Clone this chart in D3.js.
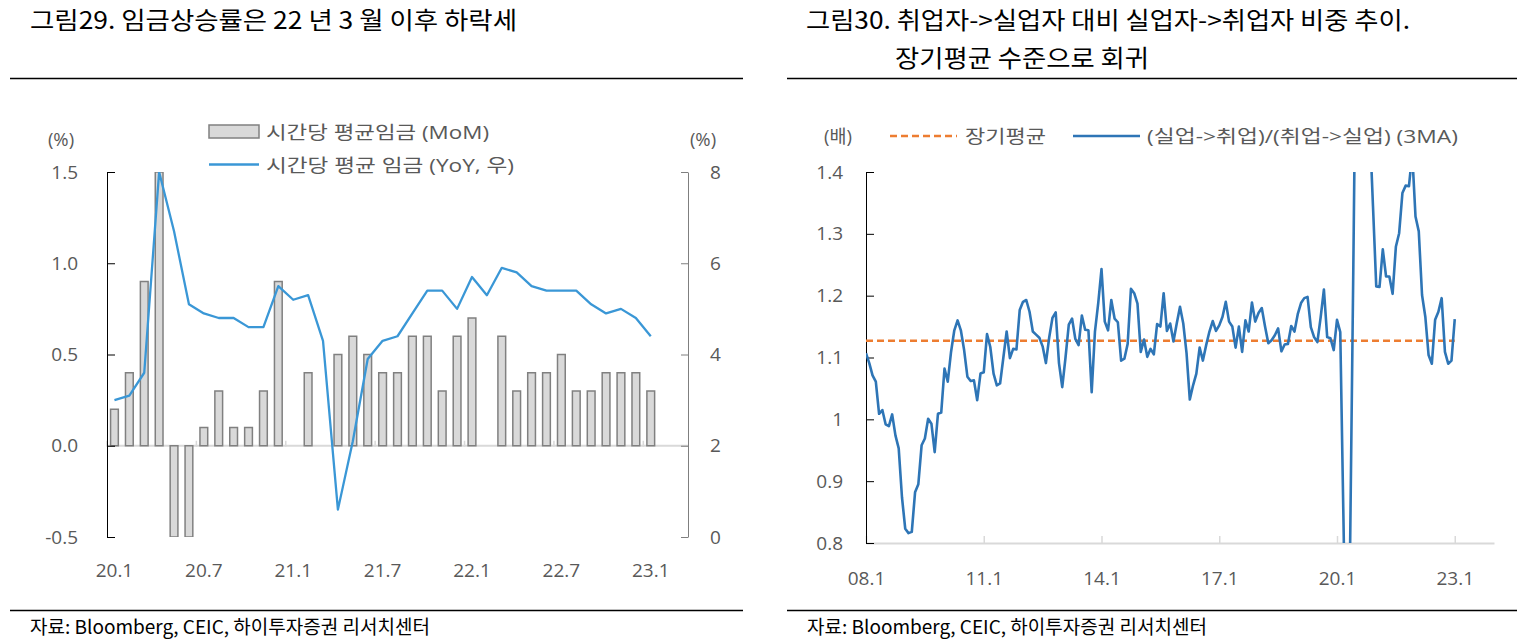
<!DOCTYPE html>
<html>
<head>
<meta charset="utf-8">
<script src="https://cdn.jsdelivr.net/npm/d3@7"></script>
<style>
  body { margin: 0; background: #fff; }
  text { font-family: 'Open Sans', 'Noto Sans CJK KR', sans-serif; }
</style>
</head>
<body>
<script>
// ---- left chart: hourly earnings ----
var wageMonths = ["20.1","20.2","20.3","20.4","20.5","20.6","20.7","20.8","20.9","20.10","20.11","20.12",
    "21.1","21.2","21.3","21.4","21.5","21.6","21.7","21.8","21.9","21.10","21.11","21.12",
    "22.1","22.2","22.3","22.4","22.5","22.6","22.7","22.8","22.9","22.10","22.11","22.12",
    "23.1","23.2","23.3"];
var wageMoM = [0.2, 0.4, 0.9, 1.5, -0.5, -0.5, 0.1, 0.3, 0.1, 0.1, 0.3, 0.9,
    0.0, 0.4, 0.0, 0.5, 0.6, 0.5, 0.4, 0.4, 0.6, 0.6, 0.3, 0.6,
    0.7, 0.0, 0.6, 0.3, 0.4, 0.4, 0.5, 0.3, 0.3, 0.4, 0.4, 0.4,
    0.3];
var wageYoY = [3.0, 3.1, 3.6, 8.0, 6.7, 5.1, 4.9, 4.8, 4.8, 4.6, 4.6, 5.5,
    5.2, 5.3, 4.3, 0.6, 2.1, 3.9, 4.3, 4.4, 4.9, 5.4, 5.4, 5.0,
    5.7, 5.3, 5.9, 5.8, 5.5, 5.4, 5.4, 5.4, 5.1, 4.9, 5.0, 4.8,
    4.4];
var wageTicks = ["20.1","20.7","21.1","21.7","22.1","22.7","23.1"];
var wageLeftTicks = [-0.5, 0, 0.5, 1.0, 1.5];
var wageRightTicks = [0, 2, 4, 6, 8];

// ---- right chart: flow ratio (3MA), monthly from 08.1 ----
var flowRatio = [
    1.107, 1.091, 1.071, 1.061, 1.009, 1.015, 0.992, 0.989, 1.008, 0.974, 0.953, 0.874,
    0.823, 0.816, 0.818, 0.882, 0.895, 0.958, 0.969, 1.001, 0.993, 0.947, 1.009, 1.011,
    1.082, 1.061, 1.109, 1.144, 1.160, 1.144, 1.112, 1.069, 1.062, 1.063, 1.031, 1.074,
    1.076, 1.138, 1.117, 1.074, 1.055, 1.058, 1.100, 1.142, 1.099, 1.114, 1.113, 1.177,
    1.190, 1.193, 1.174, 1.142, 1.137, 1.132, 1.118, 1.091, 1.132, 1.164, 1.173, 1.091,
    1.052, 1.100, 1.153, 1.163, 1.130, 1.120, 1.168, 1.145, 1.144, 1.044, 1.142, 1.188,
    1.243, 1.158, 1.144, 1.193, 1.163, 1.157, 1.095, 1.098, 1.122, 1.211, 1.204, 1.187,
    1.109, 1.129, 1.101, 1.114, 1.105, 1.154, 1.150, 1.204, 1.143, 1.155, 1.126, 1.155,
    1.182, 1.155, 1.107, 1.032, 1.055, 1.074, 1.116, 1.095, 1.120, 1.142, 1.159, 1.143,
    1.152, 1.166, 1.190, 1.158, 1.150, 1.116, 1.150, 1.109, 1.160, 1.142, 1.189, 1.158,
    1.172, 1.180, 1.150, 1.123, 1.128, 1.136, 1.147, 1.110, 1.121, 1.122, 1.151, 1.142,
    1.170, 1.188, 1.196, 1.198, 1.149, 1.133, 1.125, 1.165, 1.210, 1.133, 1.131, 1.112,
    1.161, 1.141, 0.830, 0.500, 0.790, 1.250, 1.750, 2.100, 1.950, 1.700, 1.475, 1.345,
    1.215, 1.214, 1.275, 1.231, 1.231, 1.203, 1.279, 1.301, 1.366, 1.378, 1.377, 1.430,
    1.328, 1.304, 1.201, 1.166, 1.104, 1.090, 1.161, 1.174, 1.196, 1.109, 1.090, 1.095,
    1.162];
var flowAvg = 1.127;
var flowTickIdx = [0, 36, 72, 108, 144, 180];
var flowTickLabels = ["08.1", "11.1", "14.1", "17.1", "20.1", "23.1"];
var flowYTicks = [0.8, 0.9, 1, 1.1, 1.2, 1.3, 1.4];

var W = 1527, H = 642;
var grey = "#595959";

var svg = d3.select("body")
    .append("svg")
    .attr("width", W)
    .attr("height", H);

svg.append("rect").attr("width", W).attr("height", H).attr("fill", "#fff");

// titles, rules and source lines
function header(x0, x1, lines) {
    lines.forEach(function (l) {
        svg.append("text")
            .attr("x", l.x).attr("y", l.y)
            .attr("font-size", 24)
            .attr("fill", "#000")
            .style("font-family", "'Noto Sans CJK KR', sans-serif")
            .attr("textLength", l.w)
            .attr("lengthAdjust", "spacingAndGlyphs")
            .text(l.t);
    });
    svg.append("line").attr("x1", x0).attr("x2", x1).attr("y1", 78.5).attr("y2", 78.5)
        .attr("stroke", "#000").attr("stroke-width", 1.5);
    svg.append("line").attr("x1", x0).attr("x2", x1).attr("y1", 610.5).attr("y2", 610.5)
        .attr("stroke", "#000").attr("stroke-width", 1.5);
    svg.append("text")
        .attr("x", x0 + 20).attr("y", 634)
        .attr("font-size", 19)
        .attr("fill", "#000")
        .style("font-family", "'Noto Sans CJK KR', sans-serif")
        .attr("textLength", 400)
        .attr("lengthAdjust", "spacingAndGlyphs")
        .text("자료: Bloomberg, CEIC, 하이투자증권 리서치센터");
}

header(10, 743, [{ x: 30, y: 29, w: 487, t: "그림29. 임금상승률은 22 년 3 월 이후 하락세" }]);
header(787, 1517, [
    { x: 806, y: 29, w: 604, t: "그림30. 취업자->실업자 대비 실업자->취업자 비중 추이." },
    { x: 895, y: 67, w: 254, t: "장기평균 수준으로 회귀" }
]);

function legendText(x, y, w, t) {
    svg.append("text")
        .attr("x", x).attr("y", y)
        .attr("font-size", 18.5)
        .attr("fill", grey)
        .attr("textLength", w)
        .attr("lengthAdjust", "spacingAndGlyphs")
        .text(t);
}

function styleAxis(g, color) {
    g.selectAll("text").attr("fill", grey).attr("font-size", 19)
        .style("font-family", "'Open Sans', sans-serif");
    g.select(".domain").attr("stroke", color);
    g.selectAll(".tick line").attr("stroke", color);
}

// ================= left chart =================
function drawWage() {
    var left = 107, right = 688, top = 172, bottom = 537;

    var x = d3.scaleBand()
        .domain(wageMonths)
        .range([left, right])
        .paddingInner(0.48)
        .paddingOuter(0.24);

    var yL = d3.scaleLinear().domain([-0.5, 1.5]).range([bottom, top]);
    var yR = d3.scaleLinear().domain([0, 8]).range([bottom, top]);

    svg.append("clipPath").attr("id", "clipL")
        .append("rect").attr("x", left).attr("y", top)
        .attr("width", right - left).attr("height", bottom - top);

    // zero line
    svg.append("line")
        .attr("x1", left).attr("x2", right)
        .attr("y1", yL(0)).attr("y2", yL(0))
        .attr("stroke", "#d9d9d9").attr("stroke-width", 2);

    // small category ticks every 6 months
    svg.selectAll(".catTick")
        .data(wageTicks)
        .enter()
        .append("line")
        .attr("x1", function (d) { return x(d) - x.step() * x.paddingInner() / 2; })
        .attr("x2", function (d) { return x(d) - x.step() * x.paddingInner() / 2; })
        .attr("y1", yL(0) - 5).attr("y2", yL(0) + 1)
        .attr("stroke", "#d9d9d9").attr("stroke-width", 1.5);

    var bars = svg.append("g").attr("clip-path", "url(#clipL)");
    bars.selectAll("rect")
        .data(wageMoM.map(function (v, i) { return { m: wageMonths[i], v: v }; })
            .filter(function (d) { return d.v !== 0; }))
        .enter()
        .append("rect")
        .attr("x", function (d) { return x(d.m); })
        .attr("width", x.bandwidth())
        .attr("y", function (d) { return yL(Math.max(0, d.v)); })
        .attr("height", function (d) { return Math.abs(yL(d.v) - yL(0)); })
        .attr("fill", "#d9d9d9")
        .attr("stroke", "#808080")
        .attr("stroke-width", 1.5);

    bars.append("path")
        .datum(wageYoY)
        .attr("fill", "none")
        .attr("stroke", "#3a97d6")
        .attr("stroke-width", 2.3)
        .attr("stroke-linejoin", "round")
        .attr("d", d3.line()
            .x(function (d, i) { return x(wageMonths[i]) + x.bandwidth() / 2; })
            .y(function (d) { return yR(d); })
        );

    var axL = svg.append("g")
        .attr("transform", "translate(" + left + ",0)")
        .call(d3.axisLeft(yL).tickValues(wageLeftTicks)
            .tickFormat(function (d) { return d.toFixed(1); })
            .tickSizeInner(-8).tickSizeOuter(0).tickPadding(29));
    styleAxis(axL, "#000");

    var axR = svg.append("g")
        .attr("transform", "translate(" + right + ",0)")
        .call(d3.axisRight(yR).tickValues(wageRightTicks)
            .tickSizeInner(-7).tickSizeOuter(0).tickPadding(22));
    styleAxis(axR, "#7f7f7f");

    var axB = svg.append("g")
        .attr("transform", "translate(0," + bottom + ")")
        .call(d3.axisBottom(x).tickValues(wageTicks).tickSize(0).tickPadding(27));
    axB.select(".domain").remove();
    styleAxis(axB, "none");

    // units
    svg.append("text").attr("x", 61).attr("y", 146).attr("text-anchor", "middle")
        .attr("font-size", 18.5).attr("fill", grey).text("(%)");
    svg.append("text").attr("x", 703).attr("y", 146).attr("text-anchor", "middle")
        .attr("font-size", 18.5).attr("fill", grey).text("(%)");

    // legend
    svg.append("rect").attr("x", 209).attr("y", 125).attr("width", 50).attr("height", 13)
        .attr("fill", "#d9d9d9").attr("stroke", "#808080").attr("stroke-width", 1.5);
    legendText(266, 139, 223, "시간당 평균임금 (MoM)");
    svg.append("line").attr("x1", 209).attr("x2", 259).attr("y1", 164.5).attr("y2", 164.5)
        .attr("stroke", "#3a97d6").attr("stroke-width", 2.3);
    legendText(266, 172, 248, "시간당 평균 임금 (YoY, 우)");
}

// ================= right chart =================
function drawFlow() {
    var left = 866, right = 1494, top = 172, bottom = 543;

    var x = d3.scaleLinear().domain([0, 192]).range([left, right]);
    var y = d3.scaleLinear().domain([0.8, 1.4]).range([bottom, top]);

    svg.append("clipPath").attr("id", "clipR")
        .append("rect").attr("x", left).attr("y", top)
        .attr("width", right - left).attr("height", bottom - top);

    var axB = svg.append("g")
        .attr("transform", "translate(0," + bottom + ")")
        .call(d3.axisBottom(x).tickValues(flowTickIdx)
            .tickFormat(function (d, i) { return flowTickLabels[i]; })
            .tickSizeInner(-7).tickSizeOuter(0).tickPadding(29));
    styleAxis(axB, "#d9d9d9");
    axB.select(".domain").attr("stroke-width", 2);
    axB.selectAll(".tick line").attr("stroke-width", 1.5);

    var axL = svg.append("g")
        .attr("transform", "translate(" + left + ",0)")
        .call(d3.axisLeft(y).tickValues(flowYTicks)
            .tickFormat(function (d) { return String(d); })
            .tickSizeInner(-8).tickSizeOuter(0).tickPadding(23));
    styleAxis(axL, "#000");

    var plot = svg.append("g").attr("clip-path", "url(#clipR)");

    plot.append("path")
        .datum(flowRatio)
        .attr("fill", "none")
        .attr("stroke", "#ed7d31")
        .attr("stroke-width", 2.5)
        .attr("stroke-dasharray", "7,4")
        .attr("d", d3.line()
            .x(function (d, i) { return x(i); })
            .y(function () { return y(flowAvg); })
        );

    plot.append("path")
        .datum(flowRatio)
        .attr("fill", "none")
        .attr("stroke", "#2e75b6")
        .attr("stroke-width", 2.6)
        .attr("stroke-linejoin", "round")
        .attr("d", d3.line()
            .x(function (d, i) { return x(i); })
            .y(function (d) { return y(d); })
        );

    // legend
    svg.append("text").attr("x", 838).attr("y", 143).attr("text-anchor", "middle")
        .attr("font-size", 18.5).attr("fill", grey).text("(배)");
    svg.append("line").attr("x1", 890).attr("x2", 957).attr("y1", 136).attr("y2", 136)
        .attr("stroke", "#ed7d31").attr("stroke-width", 2.5).attr("stroke-dasharray", "7,4");
    legendText(965, 143, 81, "장기평균");
    svg.append("line").attr("x1", 1073).attr("x2", 1140).attr("y1", 136).attr("y2", 136)
        .attr("stroke", "#2e75b6").attr("stroke-width", 2.6);
    legendText(1147, 143, 311, "(실업->취업)/(취업->실업) (3MA)");
}

drawWage();
drawFlow();
</script>
</body>
</html>
